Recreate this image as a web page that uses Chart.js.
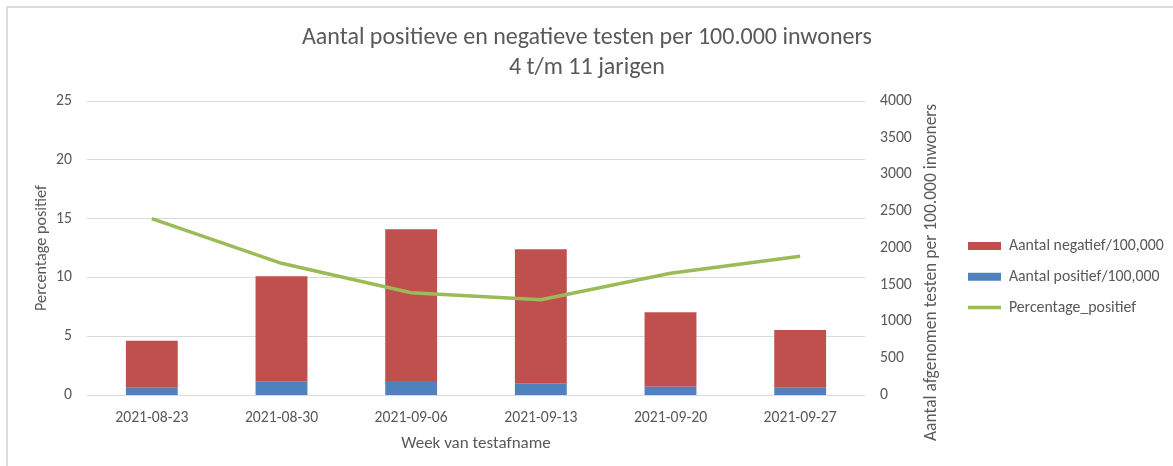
<!DOCTYPE html>
<html>
<head>
<meta charset="utf-8">
<script src="https://cdn.jsdelivr.net/npm/chart.js@4/dist/chart.umd.min.js"></script>
<style>
  html, body { margin: 0; padding: 0; background: #fff; }
  body { width: 1173px; height: 466px; position: relative; overflow: hidden; }
  #frame { position: absolute; left: 6px; top: 6px; width: 1300px; height: 600px;
           border-top: 2px solid #dcdcdc; border-left: 2px solid #dcdcdc; }
  #wrap { position: absolute; left: 0; top: 0; width: 1173px; height: 466px; }
</style>
</head>
<body>
<div id="frame"></div>
<div id="wrap"><canvas id="c" width="1173" height="466"></canvas></div>
<script>
// ---- data ----
const categories = ['2021-08-23', '2021-08-30', '2021-09-06', '2021-09-13', '2021-09-20', '2021-09-27'];
const aantalPositief = [99, 181, 190, 159, 113, 100];
const aantalNegatief = [640, 1435, 2066, 1823, 1012, 784];
const percentagePositief = [15.0, 11.2, 8.7, 8.1, 10.35, 11.8];
const titleLines = ['Aantal positieve en negatieve testen per 100.000 inwoners', '4 t/m 11 jarigen'];
const leftAxisTitle = 'Percentage positief';
const rightAxisTitle = 'Aantal afgenomen testen per 100.000 inwoners';
const xAxisTitle = 'Week van testafname';

const FONT = "Carlito, Lato, 'Liberation Sans', sans-serif";
const TXT = '#595959';
Chart.defaults.font.family = FONT;
Chart.defaults.color = TXT;

const rightTitlePlugin = {
  id: 'rightTitle',
  afterDraw(chart) {
    const ctx = chart.ctx;
    ctx.save();
    ctx.font = '17.5px ' + FONT;
    ctx.fillStyle = TXT;
    ctx.translate(932, 104);
    ctx.rotate(-Math.PI / 2);
    ctx.textAlign = 'right';
    ctx.textBaseline = 'middle';
    ctx.fillText(rightAxisTitle, 0, 0);
    ctx.restore();
  }
};

const legendOrder = ['Aantal negatief/100,000', 'Aantal positief/100,000', 'Percentage_positief'];

const chart = new Chart(document.getElementById('c'), {
  type: 'bar',
  data: {
    labels: categories,
    datasets: [
      {
        type: 'line', label: 'Percentage_positief', data: percentagePositief,
        yAxisID: 'y', borderColor: '#9BBB59', backgroundColor: '#9BBB59',
        borderWidth: 3.5, pointRadius: 0, tension: 0, order: 0, pointStyle: 'line'
      },
      {
        label: 'Aantal positief/100,000', data: aantalPositief, yAxisID: 'y1',
        backgroundColor: '#4F81BD', borderWidth: 0, order: 1, pointStyle: 'rect',
        barPercentage: 0.4, categoryPercentage: 1.0
      },
      {
        label: 'Aantal negatief/100,000', data: aantalNegatief, yAxisID: 'y1',
        backgroundColor: '#C0504D', borderWidth: 0, order: 1, pointStyle: 'rect',
        barPercentage: 0.4, categoryPercentage: 1.0
      }
    ]
  },
  options: {
    responsive: false,
    animation: false,
    layout: { padding: { left: 0, right: 0, top: 0, bottom: 0 } },
    plugins: {
      tooltip: { enabled: false },
      title: {
        display: true, text: titleLines, color: TXT,
        font: { size: 24, weight: 'normal', lineHeight: 30 / 24 },
        padding: { top: 23, bottom: 18 }
      },
      legend: {
        position: 'right', align: 'start', fullSize: false, maxWidth: 300,
        title: { display: true, text: ' ', font: { size: 10, lineHeight: 1 }, padding: 55 },
        labels: {
          usePointStyle: true, pointStyleWidth: 33, boxHeight: 8,
          padding: 15, color: TXT, font: { size: 15.8 },
          sort: (a, b) => legendOrder.indexOf(a.text) - legendOrder.indexOf(b.text)
        }
      }
    },
    scales: {
      x: {
        stacked: true,
        grid: { display: false },
        border: { display: false },
        ticks: { font: { size: 15.7 }, color: TXT, padding: 6, maxRotation: 0 },
        title: { display: true, text: xAxisTitle, color: TXT, font: { size: 17 }, padding: { top: 0, bottom: 12 } },
        afterFit(s) { s.height = 71; }
      },
      y: {
        position: 'left', min: 0, max: 25,
        ticks: { stepSize: 5, font: { size: 15.7 }, color: TXT, padding: 15 },
        grid: { color: '#d9d9d9', lineWidth: 1, drawTicks: false },
        border: { display: false },
        title: { display: true, text: leftAxisTitle, color: TXT, font: { size: 16.2 }, padding: { top: 32.3, bottom: 0 } },
        afterFit(s) { s.width = 87; }
      },
      y1: {
        position: 'right', stacked: true, min: 0, max: 4000,
        ticks: { stepSize: 500, font: { size: 15.7 }, color: TXT, padding: 15,
                 callback: (v) => String(v) },
        grid: { display: false, drawTicks: false },
        border: { display: false },
        afterFit(s) { s.width = 88; }
      }
    }
  },
  plugins: [rightTitlePlugin]
});

// fine-tune legend placement so its items start where the reference shows them
(function adjust() {
  const lg = chart.legend;
  if (!lg || !lg.legendHitBoxes || !lg.legendHitBoxes.length) return;
  const hb = lg.legendHitBoxes[0];
  const dx = hb.left - 968;
  const dy = (hb.top + hb.height / 2) - 246;
  const pad = chart.options.layout.padding;
  pad.right = pad.right + dx;
  chart.options.plugins.legend.title.padding = Math.max(0, 55 - dy / 2);
  chart.update('none');
  const hb2 = chart.legend.legendHitBoxes[0];
  const dx2 = hb2.left - 968;
  if (Math.abs(dx2) > 0.5) { pad.right = pad.right + dx2; chart.update('none'); }
})();
</script>
</body>
</html>
